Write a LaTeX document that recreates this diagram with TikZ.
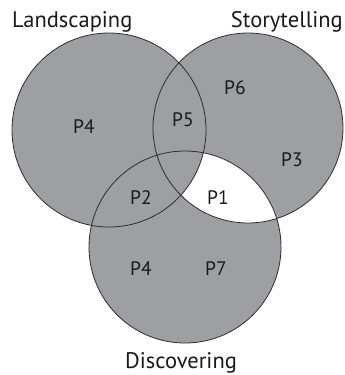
\documentclass[tikz,border=0pt]{standalone}
\usepackage{fontspec}
\setmainfont{PT Sans}
\definecolor{venngray}{RGB}{157,159,162}
\definecolor{vennline}{RGB}{45,45,45}
\begin{document}
\begin{tikzpicture}[x=1pt,y=-1pt,
  setfill/.style={fill=venngray},
  setline/.style={draw=vennline,line width=0.8pt},
  setname/.style={inner sep=0pt,font=\fontsize{22.5}{26}\selectfont,text=black!90},
  part/.style={inner sep=0pt,font=\fontsize{19.5}{23}\selectfont,text=black!90}]
\useasboundingbox (0,0) rectangle (345,375);
% set centres
\coordinate (Lc) at (109,130);
\coordinate (Sc) at (248,128);
\coordinate (Dc) at (185,247);
% fills
\fill[setfill] (Sc) circle[radius=95pt];
\fill[setfill] (Dc) circle[radius=96pt];
\begin{scope}
  \clip (Sc) circle[radius=95pt];
  \fill[white] (Dc) circle[radius=96pt];
\end{scope}
\fill[setfill] (Lc) circle[radius=97pt];
% outlines
\node[circle,setline,minimum size=194pt,inner sep=0pt] (L) at (Lc) {};
\node[circle,setline,minimum size=190pt,inner sep=0pt] (S) at (Sc) {};
\node[circle,setline,minimum size=192pt,inner sep=0pt] (D) at (Dc) {};
% set names
\node[setname,anchor=base west] (nL) at (12,27) {Landscaping};
\node[setname,anchor=base east] (nS) at (343,27) {Storytelling};
\node[setname,anchor=base] (nD) at (181,368) {Discovering};
% parts
\node[part] (p4a) at (84,127) {P4};
\node[part] (p5) at (183,120) {P5};
\node[part] (p6) at (235,88) {P6};
\node[part] (p3) at (292,160) {P3};
\node[part] (p2) at (141,198) {P2};
\node[part] (p1) at (218,198) {P1};
\node[part] (p4b) at (141,269) {P4};
\node[part] (p7) at (216,269) {P7};
\end{tikzpicture}
\end{document}
